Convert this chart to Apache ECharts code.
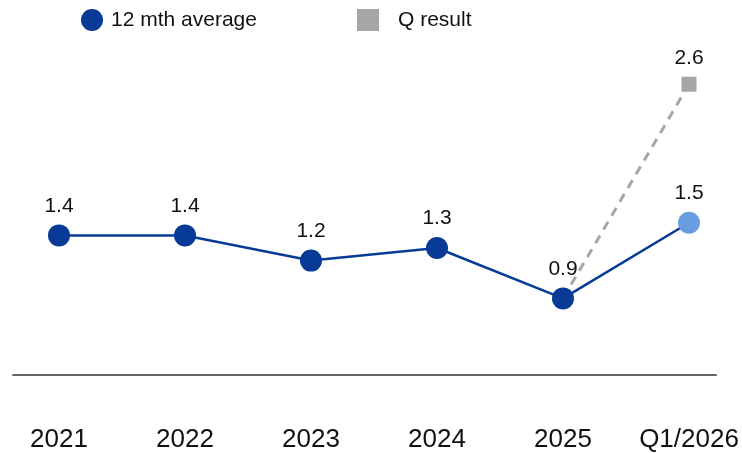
<!DOCTYPE html>
<html>
<head>
<meta charset="utf-8">
<script src="https://cdn.jsdelivr.net/npm/echarts@6/dist/echarts.min.js"></script>
<style>
html,body{margin:0;padding:0;background:#fff;}
#chart{width:742px;height:453px;}
</style>
</head>
<body>
<div id="chart"></div>
<script>
var categories = ['2021', '2022', '2023', '2024', '2025', 'Q1/2026'];
var avgValues = [1.4, 1.4, 1.2, 1.3, 0.9, 1.5];
var qValues = [null, null, null, null, 0.9, 2.6];
var seriesNames = ['12 mth average', 'Q result'];

var FONT = "'Liberation Sans', Arial, sans-serif";
var DARK = '#073b95';
var LIGHT = '#6a9ddf';
var GREY = '#a6a6a6';

var chart = echarts.init(document.getElementById('chart'));

var avgData = avgValues.map(function (v, i) {
  var d = { value: v };
  if (i === avgValues.length - 1) d.itemStyle = { color: LIGHT };
  return d;
});
var qData = qValues.map(function (v, i) {
  if (v === null) return null;
  var d = { value: v };
  if (i !== qValues.length - 1) { d.symbolSize = 0; d.label = { show: false }; }
  return d;
});

var option = {
  animation: false,
  backgroundColor: '#fff',
  textStyle: { fontFamily: FONT },
  legend: [
    {
      data: [seriesNames[0]], icon: 'circle', itemWidth: 22, itemHeight: 22,
      left: 81, top: 9, itemGap: 0, padding: 0,
      textStyle: { fontSize: 21, color: '#111', fontFamily: FONT, padding: [0, 0, 0, 3] }
    },
    {
      data: [seriesNames[1]], icon: 'rect', itemWidth: 22, itemHeight: 22,
      left: 357, top: 9, itemGap: 0, padding: 0,
      textStyle: { fontSize: 21, color: '#111', fontFamily: FONT, padding: [0, 0, 0, 14] }
    }
  ],
  grid: [
    { left: 59, right: 53, top: 59, bottom: 79 },
    { left: 13, right: 26, top: 59, bottom: 78 }
  ],
  xAxis: [
    {
      type: 'category', gridIndex: 0, data: categories, boundaryGap: false,
      axisLine: { show: false }, axisTick: { show: false }, splitLine: { show: false },
      axisLabel: { color: '#111', fontSize: 26, fontFamily: FONT, margin: 53, interval: 0 }
    },
    {
      type: 'value', gridIndex: 1, min: 0, max: 1, show: true,
      axisLine: { show: true, lineStyle: { color: '#666', width: 2 } },
      axisTick: { show: false }, axisLabel: { show: false }, splitLine: { show: false }
    }
  ],
  yAxis: [
    { type: 'value', gridIndex: 0, min: 0.3, max: 2.8, show: false },
    { type: 'value', gridIndex: 1, min: 0, max: 1, show: false }
  ],
  series: [
    {
      name: seriesNames[1], type: 'line', xAxisIndex: 0, yAxisIndex: 0,
      data: qData, z: 1, symbol: 'rect', symbolSize: 15, showSymbol: true,
      itemStyle: { color: GREY },
      lineStyle: { color: GREY, width: 3, type: [9, 7] },
      label: {
        show: true, position: 'top', distance: 8, fontSize: 21, color: '#111', fontFamily: FONT,
        formatter: function (p) { return p.value.toFixed(1); }
      }
    },
    {
      name: seriesNames[0], type: 'line', xAxisIndex: 0, yAxisIndex: 0,
      data: avgData, z: 3, symbol: 'circle', symbolSize: 22, showSymbol: true,
      itemStyle: { color: DARK },
      lineStyle: { color: DARK, width: 2.5 },
      label: {
        show: true, position: 'top', distance: 8, fontSize: 21, color: '#111', fontFamily: FONT,
        formatter: function (p) { return p.value.toFixed(1); }
      }
    }
  ]
};
chart.setOption(option);
</script>
</body>
</html>
